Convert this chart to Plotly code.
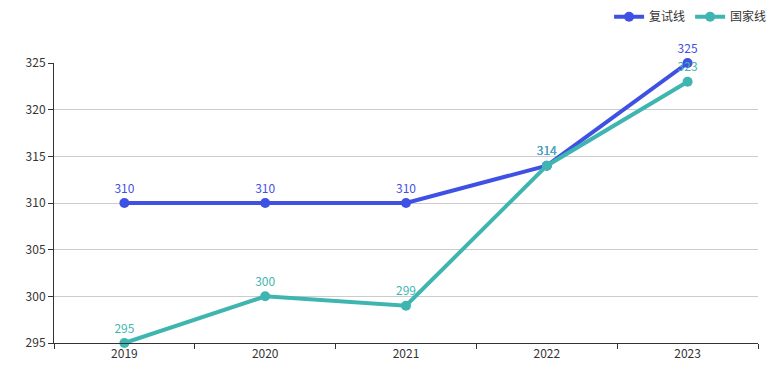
import plotly.graph_objects as go

years = ["2019", "2020", "2021", "2022", "2023"]
retest_line = [310, 310, 310, 314, 325]
national_line = [295, 300, 299, 314, 323]
y_ticks = [295, 300, 305, 310, 315, 320, 325]

blue = "#3f51e3"
teal = "#3fb5b1"

fig = go.Figure()
fig.add_trace(go.Scatter(
    x=years, y=retest_line, name="复试线", mode="lines+markers+text",
    line=dict(color=blue, width=4), marker=dict(size=10, color=blue),
    text=[str(v) for v in retest_line], textposition="top center",
    textfont=dict(color=blue, size=12), cliponaxis=False,
))
fig.add_trace(go.Scatter(
    x=years, y=national_line, name="国家线", mode="lines+markers+text",
    line=dict(color=teal, width=4), marker=dict(size=10, color=teal),
    text=[str(v) for v in national_line], textposition="top center",
    textfont=dict(color=teal, size=12), cliponaxis=False,
))

fig.update_layout(
    width=782, height=376,
    margin=dict(l=54, r=24, t=63, b=33, autoexpand=False),
    paper_bgcolor="white", plot_bgcolor="white",
    font=dict(family="Microsoft YaHei, Noto Sans CJK SC, sans-serif", size=12, color="#333"),
    showlegend=True,
    legend=dict(orientation="h", x=1.02, xanchor="right", y=1.165, yanchor="middle",
                font=dict(size=12, color="#333"), itemwidth=30,
                bgcolor="rgba(0,0,0,0)"),
    hovermode=False,
)
fig.update_xaxes(
    type="category", range=[-0.5, 4.5], tickson="boundaries",
    showline=True, linecolor="#333", linewidth=1,
    ticks="outside", ticklen=5, tickcolor="#333",
    showgrid=False, tickfont=dict(size=12, color="#333"),
)
fig.update_yaxes(
    range=[295, 325], tickvals=y_ticks,
    showline=True, linecolor="#333", linewidth=1,
    ticks="outside", ticklen=5, tickcolor="#333",
    showgrid=True, gridcolor="#ccc", gridwidth=1,
    zeroline=False, tickfont=dict(size=12, color="#333"),
)

fig.write_html("out.html", config={"displayModeBar": False},
               post_script="document.body.style.margin='0';")
